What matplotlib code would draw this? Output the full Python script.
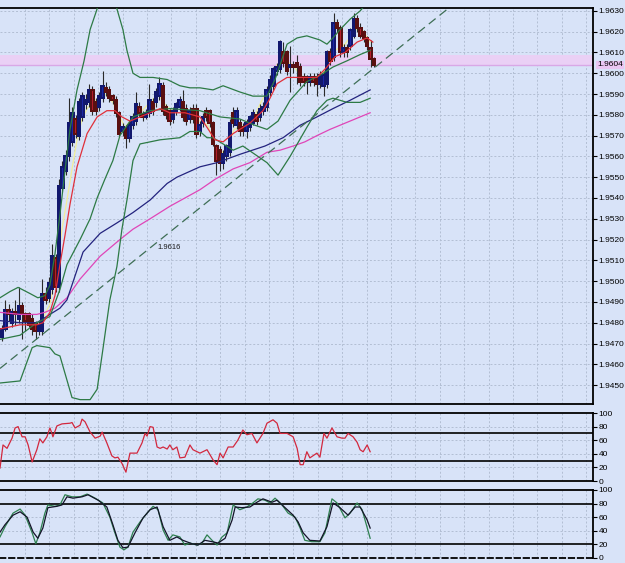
import matplotlib
matplotlib.use('Agg')
import matplotlib.pyplot as plt
from matplotlib.patches import Rectangle

plt.rcParams['font.family'] = ['Liberation Sans', 'DejaVu Sans']

# ---------------- price data (bar index 0..111) ----------------
opens = [1.9473, 1.9477, 1.9486, 1.9480, 1.9485, 1.9482, 1.9488, 1.9484, 1.9484, 1.9482,
         1.9480, 1.9476, 1.9476, 1.9494, 1.9492, 1.9496, 1.9511, 1.9497, 1.9545, 1.9553,
         1.9560, 1.9567, 1.9578, 1.9570, 1.9579, 1.9585, 1.9586, 1.9592, 1.9586, 1.9584,
         1.9588, 1.9593, 1.9592, 1.9589, 1.9587, 1.9581, 1.9572, 1.9573, 1.9569, 1.9575,
         1.9577, 1.9584, 1.9580, 1.9579, 1.9581, 1.9586, 1.9586, 1.9589, 1.9594, 1.9584,
         1.9582, 1.9578, 1.9582, 1.9584, 1.9586, 1.9583, 1.9578, 1.9583, 1.9583, 1.9572,
         1.9576, 1.9582, 1.9582, 1.9576, 1.9565, 1.9563, 1.9557, 1.9560, 1.9562, 1.9581,
         1.9575, 1.9576, 1.9574, 1.9572, 1.9574, 1.9576, 1.9580, 1.9579, 1.9582, 1.9584,
         1.9591, 1.9594, 1.9601, 1.9602, 1.9610, 1.9610, 1.9603, 1.9604, 1.9605, 1.9603,
         1.9598, 1.9598, 1.9596, 1.9598, 1.9598, 1.9595, 1.9594, 1.9595, 1.9610, 1.9608,
         1.9624, 1.9622, 1.9610, 1.9612, 1.9613, 1.9618, 1.9626, 1.9622, 1.9620, 1.9617,
         1.9612, 1.9607]
highs = [1.9479, 1.9491, 1.9489, 1.9487, 1.9491, 1.9497, 1.9490, 1.9485, 1.9485, 1.9484,
         1.9481, 1.9481, 1.9501, 1.9497, 1.9502, 1.9518, 1.9513, 1.9549, 1.9558, 1.9563,
         1.9588, 1.9584, 1.9580, 1.9588, 1.9591, 1.9590, 1.9595, 1.9594, 1.9588, 1.9591,
         1.9601, 1.9596, 1.9594, 1.9590, 1.9589, 1.9582, 1.9576, 1.9575, 1.9577, 1.9581,
         1.9591, 1.9586, 1.9582, 1.9583, 1.9595, 1.9588, 1.9593, 1.9598, 1.9596, 1.9585,
         1.9583, 1.9584, 1.9586, 1.9589, 1.9592, 1.9585, 1.9584, 1.9585, 1.9585, 1.9577,
         1.9581, 1.9584, 1.9583, 1.9577, 1.9566, 1.9565, 1.9563, 1.9566, 1.9578, 1.9584,
         1.9584, 1.9578, 1.9576, 1.9578, 1.9580, 1.9583, 1.9582, 1.9585, 1.9586, 1.9594,
         1.9599, 1.9603, 1.9605, 1.9616, 1.9615, 1.9611, 1.9613, 1.9606, 1.9609, 1.9605,
         1.9600, 1.9599, 1.9600, 1.9600, 1.9600, 1.9601, 1.9601, 1.9611, 1.9612, 1.9629,
         1.9626, 1.9623, 1.9614, 1.9614, 1.9622, 1.9629, 1.9628, 1.9624, 1.9621, 1.9618,
         1.9616, 1.9608]
lows = [1.9471, 1.9476, 1.9481, 1.9478, 1.9479, 1.9480, 1.9472, 1.9476, 1.9478, 1.9474,
        1.9472, 1.9474, 1.9474, 1.9489, 1.9490, 1.9494, 1.9495, 1.9495, 1.9543, 1.9551,
        1.9558, 1.9565, 1.9569, 1.9568, 1.9577, 1.9583, 1.9584, 1.9580, 1.9580, 1.9582,
        1.9586, 1.9589, 1.9586, 1.9585, 1.9579, 1.9570, 1.9570, 1.9564, 1.9567, 1.9573,
        1.9575, 1.9579, 1.9577, 1.9578, 1.9579, 1.9580, 1.9584, 1.9587, 1.9580, 1.9578,
        1.9575, 1.9576, 1.9580, 1.9582, 1.9577, 1.9575, 1.9576, 1.9576, 1.9569, 1.9570,
        1.9574, 1.9577, 1.9574, 1.9565, 1.9551, 1.9553, 1.9554, 1.9558, 1.9560, 1.9574,
        1.9573, 1.9570, 1.9570, 1.9569, 1.9572, 1.9575, 1.9575, 1.9577, 1.9580, 1.9582,
        1.9589, 1.9592, 1.9599, 1.9600, 1.9603, 1.9599, 1.9591, 1.9600, 1.9595, 1.9594,
        1.9594, 1.9590, 1.9594, 1.9594, 1.9589, 1.9593, 1.9589, 1.9593, 1.9604, 1.9606,
        1.9620, 1.9608, 1.9608, 1.9608, 1.9611, 1.9617, 1.9620, 1.9617, 1.9615, 1.9611,
        1.9603, 1.9603]
closes = [1.9477, 1.9486, 1.9484, 1.9485, 1.9484, 1.9488, 1.9484, 1.9481, 1.9479, 1.9477,
          1.9476, 1.9479, 1.9494, 1.9491, 1.9499, 1.9512, 1.9497, 1.9546, 1.9555, 1.9560,
          1.9576, 1.9581, 1.9571, 1.9586, 1.9589, 1.9587, 1.9592, 1.9582, 1.9582, 1.9589,
          1.9594, 1.9591, 1.9588, 1.9587, 1.9581, 1.9571, 1.9574, 1.9569, 1.9575, 1.9579,
          1.9585, 1.9581, 1.9579, 1.9581, 1.9587, 1.9582, 1.9591, 1.9595, 1.9582, 1.9580,
          1.9577, 1.9582, 1.9585, 1.9587, 1.9579, 1.9577, 1.9582, 1.9578, 1.9571, 1.9575,
          1.9579, 1.9579, 1.9576, 1.9566, 1.9558, 1.9557, 1.9561, 1.9565, 1.9576, 1.9576,
          1.9582, 1.9572, 1.9572, 1.9576, 1.9579, 1.9581, 1.9577, 1.9583, 1.9584, 1.9592,
          1.9597, 1.9602, 1.9603, 1.9615, 1.9605, 1.9601, 1.9604, 1.9603, 1.9603, 1.9596,
          1.9596, 1.9596, 1.9598, 1.9596, 1.9595, 1.9599, 1.9599, 1.9610, 1.9606, 1.9624,
          1.9622, 1.9610, 1.9612, 1.9610, 1.9621, 1.9626, 1.9622, 1.9618, 1.9617, 1.9613,
          1.9607, 1.9604]

# ---------------- indicator lines (bar position, price) ----------------
ma_magenta_x = [-0.6, 5.4, 10.4, 12.8, 15.8, 19.4, 23.3, 29.3, 35.2, 39.1, 44.2, 50.1, 54.6,
                59.1, 63.6, 69.0, 74.0, 79.1, 83.0, 86.9, 90.4, 94.0, 97.9, 100.9, 105.4, 109.9]
ma_magenta_y = [1.9485, 1.9484, 1.9484, 1.9485, 1.9487, 1.9492, 1.9501, 1.9512, 1.9520, 1.9525,
                1.9530, 1.9536, 1.9540, 1.9544, 1.9549, 1.9554, 1.9557, 1.9562, 1.9563, 1.9565,
                1.9567, 1.9570, 1.9573, 1.9575, 1.9578, 1.9581]

ma_blue_x = [-0.6, 5.4, 10.4, 14.3, 17.3, 19.4, 24.2, 29.3, 34.3, 39.1, 44.2, 49.3, 52.2,
             59.1, 64.2, 71.0, 78.5, 83.9, 89.0, 94.0, 98.8, 103.9, 109.9]
ma_blue_y = [1.9481, 1.9480, 1.9480, 1.9484, 1.9487, 1.9491, 1.9514, 1.9523, 1.9528, 1.9533,
             1.9539, 1.9547, 1.9550, 1.9555, 1.9557, 1.9561, 1.9565, 1.9569, 1.9575, 1.9579,
             1.9583, 1.9587, 1.9592]

ma_red_x = [-0.6, 5.4, 10.4, 12.2, 14.3, 15.8, 17.3, 18.8, 20.3, 22.4, 25.4, 28.4, 31.3, 33.7,
            35.8, 38.2, 41.2, 44.2, 47.2, 50.1, 54.6, 59.1, 61.2, 63.6, 66.0, 69.0, 74.0, 77.9,
            80.0, 82.1, 85.1, 89.0, 94.0, 97.0, 99.4, 102.4, 106.0, 109.0, 110.7]
ma_red_y = [1.9477, 1.9479, 1.9479, 1.9480, 1.9485, 1.9493, 1.9508, 1.9522, 1.9537, 1.9555,
            1.9571, 1.9579, 1.9582, 1.9582, 1.9579, 1.9577, 1.9579, 1.9581, 1.9583, 1.9581,
            1.9581, 1.9579, 1.9574, 1.9568, 1.9567, 1.9571, 1.9576, 1.9582, 1.9588, 1.9595,
            1.9598, 1.9598, 1.9598, 1.9603, 1.9608, 1.9610, 1.9615, 1.9617, 1.9615]

ma_yellow_x = [11.3, 14.3, 16.4, 17.9, 19.4, 20.9, 22.4, 23.9, 25.4, 27.8, 30.7, 33.1, 35.2,
               36.7, 38.8, 41.2, 44.2, 46.6, 48.7, 50.7, 53.1, 56.1, 59.1, 61.5, 63.3, 65.1,
               67.2, 69.3, 72.5, 75.5, 77.6, 80.0, 82.1, 84.5, 86.9, 89.0, 91.9, 94.9, 97.0,
               99.4, 102.4, 105.4, 107.5, 109.9]
ma_yellow_y = [1.9479, 1.9489, 1.9505, 1.9525, 1.9539, 1.9554, 1.9568, 1.9578, 1.9583, 1.9587,
               1.9590, 1.9586, 1.9579, 1.9574, 1.9578, 1.9581, 1.9586, 1.9590, 1.9585, 1.9582,
               1.9585, 1.9581, 1.9577, 1.9575, 1.9566, 1.9561, 1.9564, 1.9573, 1.9575, 1.9580,
               1.9587, 1.9594, 1.9604, 1.9606, 1.9604, 1.9599, 1.9597, 1.9597, 1.9604, 1.9611,
               1.9614, 1.9621, 1.9621, 1.9615]

bb_upper_x = [-0.6, 2.4, 4.8, 8.4, 10.7, 12.8, 14.3, 15.8, 17.3, 18.5, 20.3, 22.4, 24.5, 26.3,
              28.4, 29.9, 32.8, 34.3, 36.1, 37.3, 39.1, 41.2, 45.1, 49.3, 53.1, 56.1, 59.1,
              63.0, 66.0, 71.0, 74.9, 79.1, 81.5, 83.0, 85.1, 88.1, 91.0, 94.9, 97.0, 98.8,
              100.9, 103.9, 106.9, 109.0, 109.9]
bb_upper_y = [1.9492, 1.9495, 1.9497, 1.9494, 1.9492, 1.9493, 1.9498, 1.9513, 1.9532, 1.9549,
              1.9573, 1.9592, 1.9606, 1.9621, 1.9631, 1.9643, 1.9643, 1.9631, 1.9621, 1.9611,
              1.9600, 1.9598, 1.9598, 1.9597, 1.9594, 1.9593, 1.9593, 1.9592, 1.9594, 1.9591,
              1.9589, 1.9589, 1.9597, 1.9604, 1.9614, 1.9617, 1.9618, 1.9616, 1.9614, 1.9617,
              1.9621, 1.9626, 1.9630, 1.9634, 1.9635]

bb_mid_x = [-0.6, 5.4, 10.4, 14.3, 17.3, 19.4, 23.3, 26.3, 28.4, 30.7, 33.1, 35.2, 39.1, 44.2,
            50.1, 59.1, 65.1, 71.0, 75.5, 79.1, 82.4, 86.0, 91.0, 94.9, 98.8, 103.0, 106.9, 109.9]
bb_mid_y = [1.9472, 1.9474, 1.9480, 1.9483, 1.9496, 1.9508, 1.9520, 1.9530, 1.9540, 1.9549,
            1.9558, 1.9570, 1.9579, 1.9582, 1.9583, 1.9582, 1.9579, 1.9578, 1.9575, 1.9573,
            1.9577, 1.9587, 1.9596, 1.9599, 1.9603, 1.9606, 1.9609, 1.9611]

bb_lower_x = [-0.6, 5.4, 9.0, 10.4, 14.3, 15.8, 17.3, 20.9, 23.3, 26.3, 28.4, 30.1, 32.2, 34.3,
              35.8, 37.3, 39.1, 41.2, 47.2, 53.1, 56.1, 59.1, 61.2, 63.0, 66.0, 69.0, 71.9,
              75.5, 79.1, 82.4, 86.0, 91.0, 94.0, 97.0, 98.8, 103.0, 106.9, 109.9]
bb_lower_y = [1.9451, 1.9452, 1.9468, 1.9469, 1.9468, 1.9465, 1.9464, 1.9444, 1.9443, 1.9443,
              1.9448, 1.9467, 1.9491, 1.9507, 1.9525, 1.9539, 1.9558, 1.9566, 1.9568, 1.9569,
              1.9572, 1.9572, 1.9569, 1.9569, 1.9566, 1.9563, 1.9565, 1.9561, 1.9557, 1.9551,
              1.9560, 1.9574, 1.9582, 1.9587, 1.9588, 1.9586, 1.9586, 1.9588]

trend_x = [-0.6, 134.6]
trend_y = [1.9458, 1.9633]
trend_label = '1.9616'
trend_label_x, trend_label_y = 46.3, 1.9516

current_price = 1.9604
band_top = 1.9609

price_ticks = [1.9450, 1.9460, 1.9470, 1.9480, 1.9490, 1.9500, 1.9510, 1.9520, 1.9530, 1.9540,
               1.9550, 1.9560, 1.9570, 1.9580, 1.9590, 1.9600, 1.9610, 1.9620, 1.9630]

# ---------------- RSI ----------------
rsi_x = [-0.6, 0.3, 1.5, 3.0, 3.9, 4.8, 6.0, 6.9, 7.8, 9.0, 10.4, 11.3, 12.2, 13.4, 14.3, 14.9,
         15.2, 16.4, 17.9, 20.3, 20.9, 21.8, 23.3, 23.9, 24.8, 26.3, 27.8, 29.3, 29.9, 31.3,
         32.8, 33.7, 34.6, 35.8, 37.0, 38.2, 40.3, 41.8, 42.7, 43.3, 44.2, 45.1, 46.3, 47.2,
         48.1, 49.3, 50.1, 51.0, 52.2, 53.1, 54.6, 56.1, 57.0, 59.1, 61.2, 63.0, 64.2, 65.1,
         66.0, 67.5, 69.0, 70.4, 71.9, 73.1, 74.6, 76.1, 77.9, 79.1, 80.9, 82.1, 83.0, 85.1,
         86.9, 88.1, 89.0, 89.9, 91.0, 91.9, 94.0, 94.9, 96.1, 97.0, 98.5, 100.0, 101.5, 102.4,
         103.3, 104.8, 106.0, 106.9, 107.8, 109.0, 109.9]
rsi_v = [19, 53, 48, 63, 78, 80, 65, 65, 53, 28, 46, 62, 56, 65, 78, 70,
         65, 81, 84, 85, 86, 78, 82, 91, 87, 72, 63, 66, 72, 56,
         37, 34, 35, 26, 13, 41, 41, 56, 70, 66, 80, 79, 50, 48,
         50, 47, 53, 46, 50, 34, 35, 53, 46, 41, 46, 31, 24, 41,
         34, 50, 50, 60, 75, 68, 70, 56, 70, 85, 90, 85, 70, 70,
         65, 48, 24, 24, 43, 34, 41, 35, 70, 63, 78, 65, 63, 63,
         70, 65, 57, 46, 43, 53, 43]

# ---------------- Stochastic ----------------
stk_x = [-0.6, 0.9, 3.3, 5.4, 6.9, 9.0, 10.1, 11.3, 12.8, 13.7, 15.8, 17.3, 18.8, 20.9, 23.3,
         25.4, 27.8, 30.1, 32.2, 33.7, 35.2, 36.4, 37.6, 39.1, 41.2, 43.3, 45.1, 46.6, 48.1,
         49.6, 51.0, 53.1, 54.6, 56.1, 58.2, 59.7, 61.2, 62.7, 64.2, 65.7, 67.2, 69.0, 71.0,
         73.1, 74.9, 76.4, 78.5, 80.0, 81.5, 83.6, 85.4, 87.5, 89.0, 90.4, 92.5, 94.9, 96.4,
         98.5, 100.0, 102.4, 103.9, 106.0, 107.5, 109.9]
stk_v = [31, 46, 66, 72, 63, 37, 21, 37, 66, 78, 76, 78, 93, 90, 90,
         94, 88, 81, 60, 37, 16, 12, 16, 38, 53, 66, 76, 71, 41,
         26, 34, 31, 19, 22, 19, 22, 34, 26, 19, 31, 37, 78, 71,
         75, 81, 87, 85, 81, 88, 78, 66, 60, 44, 26, 24, 24, 37,
         87, 81, 59, 66, 81, 71, 29]
std_x = [-0.6, 0.9, 3.3, 5.4, 7.5, 9.3, 10.7, 12.2, 13.7, 16.4, 17.9, 19.4, 21.2, 23.9, 25.7,
         28.7, 31.3, 33.1, 34.6, 36.1, 37.6, 39.7, 42.1, 44.2, 46.3, 48.1, 50.1, 52.2, 54.0,
         56.7, 58.5, 60.6, 62.7, 64.5, 66.6, 68.7, 69.6, 71.6, 74.0, 76.1, 77.9, 80.6, 82.1,
         84.5, 86.9, 88.4, 89.9, 91.9, 94.9, 97.0, 98.8, 100.9, 103.3, 105.4, 106.9, 109.0, 109.9]
std_v = [38, 49, 63, 68, 60, 38, 29, 44, 74, 76, 78, 90, 88, 90, 93,
         85, 75, 49, 26, 15, 16, 37, 59, 71, 75, 46, 26, 31, 26,
         21, 19, 26, 24, 22, 29, 56, 75, 74, 75, 82, 87, 82, 85,
         74, 63, 53, 37, 26, 25, 46, 81, 74, 63, 75, 75, 56, 44]

# ---------------- styling ----------------
BG = '#d8e3f8'
GRID = '#b2bed3'
FW, FH = 625, 563
BAR_PX = 3.35
GRID_PX = 24.4

fig = plt.figure(figsize=(FW / 100, FH / 100), dpi=100)
fig.patch.set_facecolor(BG)


def rect(l, t, r, b):
    return [l / FW, 1 - b / FH, (r - l) / FW, (b - t) / FH]


ax = fig.add_axes(rect(0, 8, 593, 404))
ax_rsi = fig.add_axes(rect(0, 413, 593, 481))
ax_st = fig.add_axes(rect(0, 490, 593, 558))

xmin = -2 / BAR_PX
xmax = (593 - 2) / BAR_PX
vgrid = [(GRID_PX * k - 1.5) / BAR_PX for k in range(1, 25)]
GRID_LS = (0, (2, 2))

for a in (ax, ax_rsi, ax_st):
    a.set_facecolor(BG)
    a.set_xlim(xmin, xmax)
    a.spines['left'].set_visible(False)
    for s in ('top', 'bottom', 'right'):
        a.spines[s].set_color('black')
        a.spines[s].set_linewidth(1.3)
    a.yaxis.tick_right()
    a.tick_params(axis='y', labelsize=6, length=3, width=0.8, pad=1, colors='black')
    a.set_xticks([])
    for xv in vgrid:
        a.axvline(xv, color=GRID, lw=0.7, ls=GRID_LS, zorder=0.5)

# ---- main price panel ----
ax.set_ylim(1.94409, 1.96314)
ax.set_yticks(price_ticks)
ax.set_yticklabels(['%.4f' % t for t in price_ticks])
for t in price_ticks:
    ax.axhline(t, color=GRID, lw=0.7, ls=GRID_LS, zorder=0.5)

ax.axhspan(current_price, band_top, color='#ead0f5', lw=0, zorder=0.8)
ax.axhline(current_price, color='#d9a8e6', lw=1.0, zorder=0.9)

# yellow fast MA mostly behind the candles
ax.plot(ma_yellow_x, ma_yellow_y, color='#f2ee9a', lw=0.9, zorder=1.5)

# candles
BULL = '#1b27a6'
BEAR = '#b31d2a'
for i, (o, h, l, c) in enumerate(zip(opens, highs, lows, closes)):
    ax.vlines(i, l, h, color='#2a2a2a', lw=0.8, zorder=2)
    bottom = min(o, c)
    height = max(abs(c - o), 0.00005)
    up = c >= o
    ax.add_patch(Rectangle((i - 0.37, bottom), 0.74, height,
                           facecolor=BULL if up else BEAR,
                           edgecolor='#12186e' if up else '#5a1010', lw=0.3,
                           antialiased=False, zorder=3))

ax.plot(ma_magenta_x, ma_magenta_y, color='#e045b8', lw=0.9, zorder=4)
ax.plot(ma_blue_x, ma_blue_y, color='#23237e', lw=0.9, zorder=4)
ax.plot(bb_upper_x, bb_upper_y, color='#2d7a45', lw=0.9, zorder=4)
ax.plot(bb_mid_x, bb_mid_y, color='#2d7a45', lw=0.9, zorder=4)
ax.plot(bb_lower_x, bb_lower_y, color='#2d7a45', lw=0.9, zorder=4)
ax.plot(ma_red_x, ma_red_y, color='#e0303a', lw=0.9, zorder=4)
ax.plot(trend_x, trend_y, color='#3e6e55', lw=0.9, ls=(0, (7, 4)), zorder=4)
ax.text(trend_label_x, trend_label_y, trend_label, fontsize=5.5, ha='left', va='center',
        color='#1a1a1a', zorder=5)

ax.text(1.0 + 4 / 593, current_price, '1.9604', transform=ax.get_yaxis_transform(),
        fontsize=6, ha='left', va='center', color='black', zorder=6, clip_on=False,
        bbox=dict(facecolor='#eac6f2', edgecolor='none', pad=0.6))

# ---- RSI panel ----
ax_rsi.set_ylim(0, 100)
ax_rsi.set_yticks([0, 20, 40, 60, 80, 100])
for v in (20, 40, 60, 80):
    ax_rsi.axhline(v, color=GRID, lw=0.7, ls=GRID_LS, zorder=0.5)
for v in (30, 70):
    ax_rsi.axhline(v, color='black', lw=1.2, zorder=1)
ax_rsi.plot(rsi_x, rsi_v, color='#d2283e', lw=0.9, zorder=3)

# ---- Stochastic panel ----
ax_st.set_ylim(0, 100)
ax_st.set_yticks([0, 20, 40, 60, 80, 100])
for v in (40, 60):
    ax_st.axhline(v, color=GRID, lw=0.7, ls=GRID_LS, zorder=0.5)
for v in (20, 80):
    ax_st.axhline(v, color='black', lw=1.2, zorder=1)
ax_st.plot(stk_x, stk_v, color='#2e8050', lw=0.9, zorder=3)
ax_st.plot(std_x, std_v, color='#141428', lw=0.9, zorder=3)
ax_st.spines['bottom'].set_linestyle((0, (3, 2)))

fig.savefig('out.png', dpi=100, facecolor=BG)
